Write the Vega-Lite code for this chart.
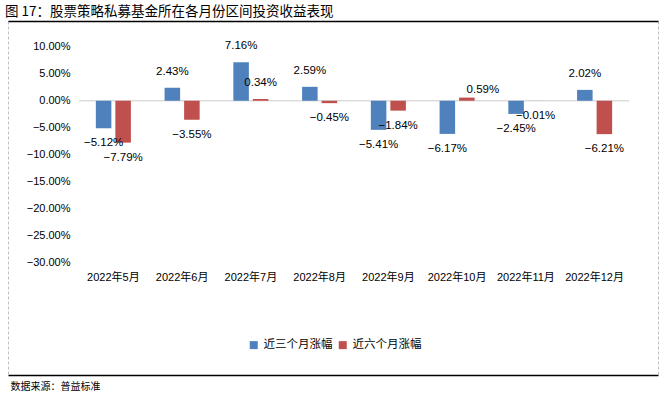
{
  "$schema": "https://vega.github.io/schema/vega-lite/v6.json",
  "width": 650,
  "height": 354,
  "autosize": {"type": "none"},
  "padding": {"left": 8, "top": 21, "right": 11, "bottom": 21},
  "background": "white",
  "title": {
    "text": "图 17：股票策略私募基金所在各月份区间投资收益表现",
    "anchor": "start",
    "frame": "group",
    "dx": -3,
    "offset": 3,
    "fontSize": 13.5,
    "font": "Noto Sans CJK SC",
    "fontWeight": "normal",
    "color": "#000000"
  },
  "data": {
    "values": [
      {"month": "2022年5月", "series": "近三个月涨幅", "value": -0.0512},
      {"month": "2022年6月", "series": "近三个月涨幅", "value": 0.0243},
      {"month": "2022年7月", "series": "近三个月涨幅", "value": 0.0716},
      {"month": "2022年8月", "series": "近三个月涨幅", "value": 0.0259},
      {"month": "2022年9月", "series": "近三个月涨幅", "value": -0.0541},
      {"month": "2022年10月", "series": "近三个月涨幅", "value": -0.0617},
      {"month": "2022年11月", "series": "近三个月涨幅", "value": -0.0245},
      {"month": "2022年12月", "series": "近三个月涨幅", "value": 0.0202},
      {"month": "2022年5月", "series": "近六个月涨幅", "value": -0.0779},
      {"month": "2022年6月", "series": "近六个月涨幅", "value": -0.0355},
      {"month": "2022年7月", "series": "近六个月涨幅", "value": 0.0034},
      {"month": "2022年8月", "series": "近六个月涨幅", "value": -0.0045},
      {"month": "2022年9月", "series": "近六个月涨幅", "value": -0.0184},
      {"month": "2022年10月", "series": "近六个月涨幅", "value": 0.0059},
      {"month": "2022年11月", "series": "近六个月涨幅", "value": -0.0001},
      {"month": "2022年12月", "series": "近六个月涨幅", "value": -0.0621}
    ]
  },
  "encoding": {
    "xOffset": {
      "field": "series",
      "type": "nominal",
      "sort": ["近三个月涨幅", "近六个月涨幅"],
      "scale": {"paddingInner": 0.205, "paddingOuter": 0}
    },
    "y": {
      "field": "value",
      "type": "quantitative",
      "scale": {"domain": [-0.51023, 0.14837], "nice": false, "zero": false},
      "axis": {
        "title": null,
        "values": [-0.3, -0.25, -0.2, -0.15, -0.1, -0.05, 0, 0.05, 0.1],
        "format": ".2%",
        "offset": -71,
        "domain": false,
        "ticks": false,
        "grid": false,
        "labelPadding": 9,
        "labelFont": "Liberation Sans",
        "labelFontSize": 11,
        "labelColor": "#000000"
      }
    }
  },
  "layer": [
    {
      "mark": {"type": "tick", "color": "#d9d9d9", "thickness": 1, "size": 68.75, "opacity": 1},
      "encoding": {
        "x": {
          "field": "month",
          "type": "nominal",
          "sort": ["2022年5月", "2022年6月", "2022年7月", "2022年8月", "2022年9月", "2022年10月", "2022年11月", "2022年12月"],
          "scale": {"paddingInner": 0.49, "paddingOuter": 0.9723, "align": 0.657},
          "axis": null
        },
        "y": {"datum": 0},
        "xOffset": null
      }
    },
    {
      "mark": {"type": "bar"},
      "encoding": {
        "x": {
          "field": "month",
          "type": "nominal",
          "sort": ["2022年5月", "2022年6月", "2022年7月", "2022年8月", "2022年9月", "2022年10月", "2022年11月", "2022年12月"],
          "scale": {"paddingInner": 0.49, "paddingOuter": 0.9723, "align": 0.657},
          "axis": {
            "orient": "bottom",
            "offset": -113,
            "title": "数据来源：普益标准",
            "titleAnchor": "start",
            "titleAlign": "left",
            "titleX": 2,
            "titleY": 124,
            "titleBaseline": "middle",
            "titleFont": "Noto Sans CJK SC",
            "titleFontSize": 10,
            "titleFontWeight": "normal",
            "titleColor": "#000000",
            "domain": false,
            "ticks": false,
            "labelAngle": 0,
            "labelPadding": 9,
            "labelFont": "Liberation Sans, Noto Sans CJK SC",
            "labelFontSize": 11,
            "labelColor": "#000000"
          }
        },
        "color": {
          "field": "series",
          "type": "nominal",
          "scale": {"domain": ["近三个月涨幅", "近六个月涨幅"], "range": ["#4F81BD", "#C0504D"]},
          "legend": {
            "title": null,
            "orient": "none",
            "legendX": 240,
            "legendY": 318,
            "direction": "horizontal",
            "symbolType": "square",
            "symbolSize": 64,
            "symbolStrokeWidth": 0,
            "labelFont": "Noto Sans CJK SC",
            "labelFontSize": 11.5,
            "labelColor": "#000000",
            "labelOffset": 4,
            "columnPadding": 4
          }
        }
      }
    },
    {
      "transform": [{"filter": "datum.value > 0 && !(datum.month === '2022年10月' && datum.series === '近六个月涨幅')"}],
      "mark": {"type": "text", "dy": -16, "font": "Liberation Sans", "fontSize": 11.5, "color": "#000000"},
      "encoding": {
        "x": {
          "field": "month",
          "type": "nominal",
          "sort": ["2022年5月", "2022年6月", "2022年7月", "2022年8月", "2022年9月", "2022年10月", "2022年11月", "2022年12月"],
          "scale": {"paddingInner": 0.49, "paddingOuter": 0.9723, "align": 0.657},
          "axis": {"orient": "top", "offset": 0, "title": null, "labels": false, "ticks": false, "grid": false, "domain": true, "domainColor": "#000000", "domainWidth": 1.5}
        },
        "text": {"field": "value", "type": "quantitative", "format": ".2%"}
      }
    },
    {
      "transform": [{"filter": "datum.value < 0"}],
      "mark": {"type": "text", "dy": 15, "font": "Liberation Sans", "fontSize": 11.5, "color": "#000000"},
      "encoding": {
        "x": {
          "field": "month",
          "type": "nominal",
          "sort": ["2022年5月", "2022年6月", "2022年7月", "2022年8月", "2022年9月", "2022年10月", "2022年11月", "2022年12月"],
          "scale": {"paddingInner": 0.49, "paddingOuter": 0.9723, "align": 0.657},
          "axis": {"orient": "bottom", "offset": 0, "title": null, "labels": false, "ticks": false, "grid": false, "domain": true, "domainColor": "#000000", "domainWidth": 1.5}
        },
        "text": {"field": "value", "type": "quantitative", "format": ".2%"}
      }
    },
    {
      "transform": [{"filter": "datum.month === '2022年10月' && datum.series === '近六个月涨幅'"}],
      "mark": {"type": "text", "dx": 16, "dy": -8, "font": "Liberation Sans", "fontSize": 11.5, "color": "#000000"},
      "encoding": {
        "x": {
          "field": "month",
          "type": "nominal",
          "sort": ["2022年5月", "2022年6月", "2022年7月", "2022年8月", "2022年9月", "2022年10月", "2022年11月", "2022年12月"],
          "scale": {"paddingInner": 0.49, "paddingOuter": 0.9723, "align": 0.657},
          "axis": null
        },
        "text": {"field": "value", "type": "quantitative", "format": ".2%"}
      }
    }
  ],
  "resolve": {"axis": {"x": "independent"}},
  "config": {"view": {"stroke": "#bfbfbf", "strokeDash": [3, 2], "strokeWidth": 1}}
}
